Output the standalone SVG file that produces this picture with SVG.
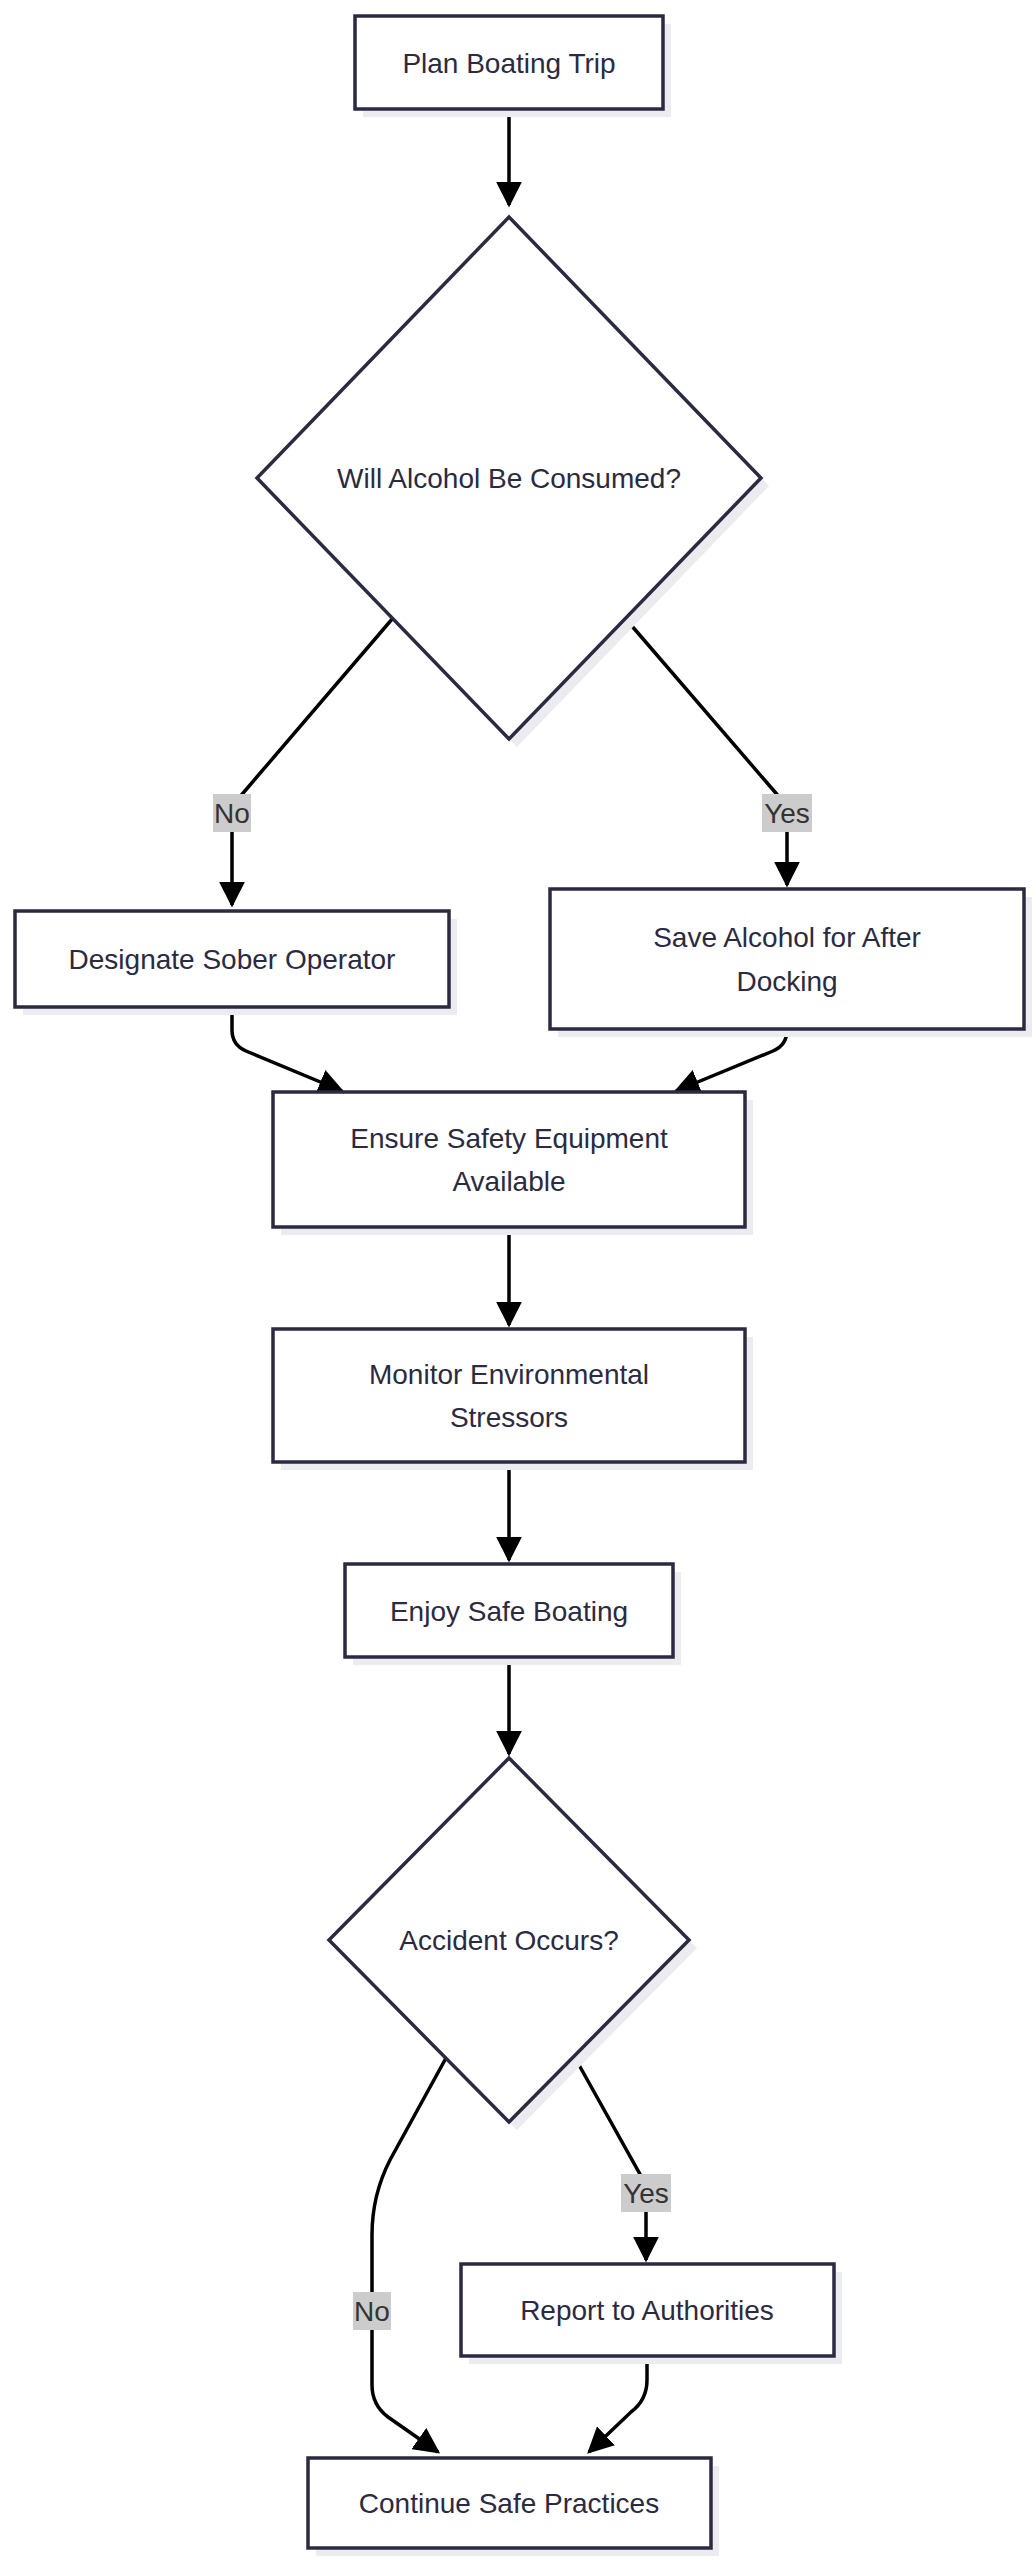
<svg xmlns="http://www.w3.org/2000/svg" width="1036" height="2560" viewBox="0 0 1036 2560">
<style>
.n{fill:#fff;stroke:#2b2a40;stroke-width:3.5}
.s{fill:#ececf0}
.t{font-family:"Liberation Sans","DejaVu Sans",sans-serif;font-size:28px;fill:#2b2a40;text-anchor:middle;dominant-baseline:central}
.e{fill:none;stroke:#000;stroke-width:3.5}
.lb{fill:#cccccc}
.lt{font-family:"Liberation Sans","DejaVu Sans",sans-serif;font-size:28px;fill:#333;text-anchor:middle;dominant-baseline:central}
</style>
<defs>
<marker id="m" viewBox="0 0 10 10" refX="9" refY="5" markerWidth="26" markerHeight="26" markerUnits="userSpaceOnUse" orient="auto"><path d="M0,0L10,5L0,10z" fill="#000"/></marker></defs>
<rect width="1036" height="2560" fill="#fff"/>
<g id="connectors">
<path class="e" d="M509,107V205" marker-end="url(#m)"/>
<path class="e" d="M393,618L232,806V905" marker-end="url(#m)"/>
<path class="e" d="M625,618L787,806V885" marker-end="url(#m)"/>
<path class="e" d="M232,1005V1030Q232,1045 246,1051L342,1091" marker-end="url(#m)"/>
<path class="e" d="M787,1027V1030Q787,1045 773,1051L676,1091" marker-end="url(#m)"/>
<path class="e" d="M509,1225V1325" marker-end="url(#m)"/>
<path class="e" d="M509,1460V1560" marker-end="url(#m)"/>
<path class="e" d="M509,1655V1754" marker-end="url(#m)"/>
<path class="e" d="M574,2056L646,2185V2260" marker-end="url(#m)"/>
<path class="e" d="M446,2058L390,2160Q372,2195 372,2235V2385Q372,2405 388,2417L438,2452" marker-end="url(#m)"/>
<path class="e" d="M647,2354V2380Q647,2400 631,2412L589,2452" marker-end="url(#m)"/>
<rect class="lb" x="213" y="794" width="38" height="38"/><text class="lt" x="232" y="813">No</text>
<rect class="lb" x="762" y="794" width="50" height="38"/><text class="lt" x="787" y="813">Yes</text>
<rect class="lb" x="621" y="2174" width="50" height="38"/><text class="lt" x="646" y="2193">Yes</text>
<rect class="lb" x="353" y="2292" width="38" height="38"/><text class="lt" x="372" y="2311">No</text>
</g>
<g id="plan"><rect class="s" x="363" y="24" width="308" height="93"/><rect class="n" x="355" y="16" width="308" height="93"/><text class="t" x="509" y="63">Plan Boating Trip</text></g>
<g id="alcohol"><path class="s" d="M517,225L769,486L517,747L265,486z"/><path class="n" d="M509,217L761,478L509,739L257,478z"/><text class="t" x="509" y="478">Will Alcohol Be Consumed?</text></g>
<g id="sober"><rect class="s" x="23" y="919" width="434" height="96"/><rect class="n" x="15" y="911" width="434" height="96"/><text class="t" x="232" y="959">Designate Sober Operator</text></g>
<g id="save"><rect class="s" x="558" y="897" width="474" height="140"/><rect class="n" x="550" y="889" width="474" height="140"/><text class="t" x="787" y="937">Save Alcohol for After</text><text class="t" x="787" y="981">Docking</text></g>
<g id="ensure"><rect class="s" x="281" y="1100" width="472" height="135"/><rect class="n" x="273" y="1092" width="472" height="135"/><text class="t" x="509" y="1138">Ensure Safety Equipment</text><text class="t" x="509" y="1181">Available</text></g>
<g id="monitor"><rect class="s" x="281" y="1337" width="472" height="133"/><rect class="n" x="273" y="1329" width="472" height="133"/><text class="t" x="509" y="1374">Monitor Environmental</text><text class="t" x="509" y="1417">Stressors</text></g>
<g id="enjoy"><rect class="s" x="353" y="1572" width="328" height="93"/><rect class="n" x="345" y="1564" width="328" height="93"/><text class="t" x="509" y="1611">Enjoy Safe Boating</text></g>
<g id="accident"><path class="s" d="M517,1766L697,1948L517,2130L337,1948z"/><path class="n" d="M509,1758L689,1940L509,2122L329,1940z"/><text class="t" x="509" y="1940">Accident Occurs?</text></g>
<g id="report"><rect class="s" x="469" y="2272" width="373" height="92"/><rect class="n" x="461" y="2264" width="373" height="92"/><text class="t" x="647" y="2310">Report to Authorities</text></g>
<g id="continue"><rect class="s" x="316" y="2466" width="403" height="90"/><rect class="n" x="308" y="2458" width="403" height="90"/><text class="t" x="509" y="2503">Continue Safe Practices</text></g>
</svg>
